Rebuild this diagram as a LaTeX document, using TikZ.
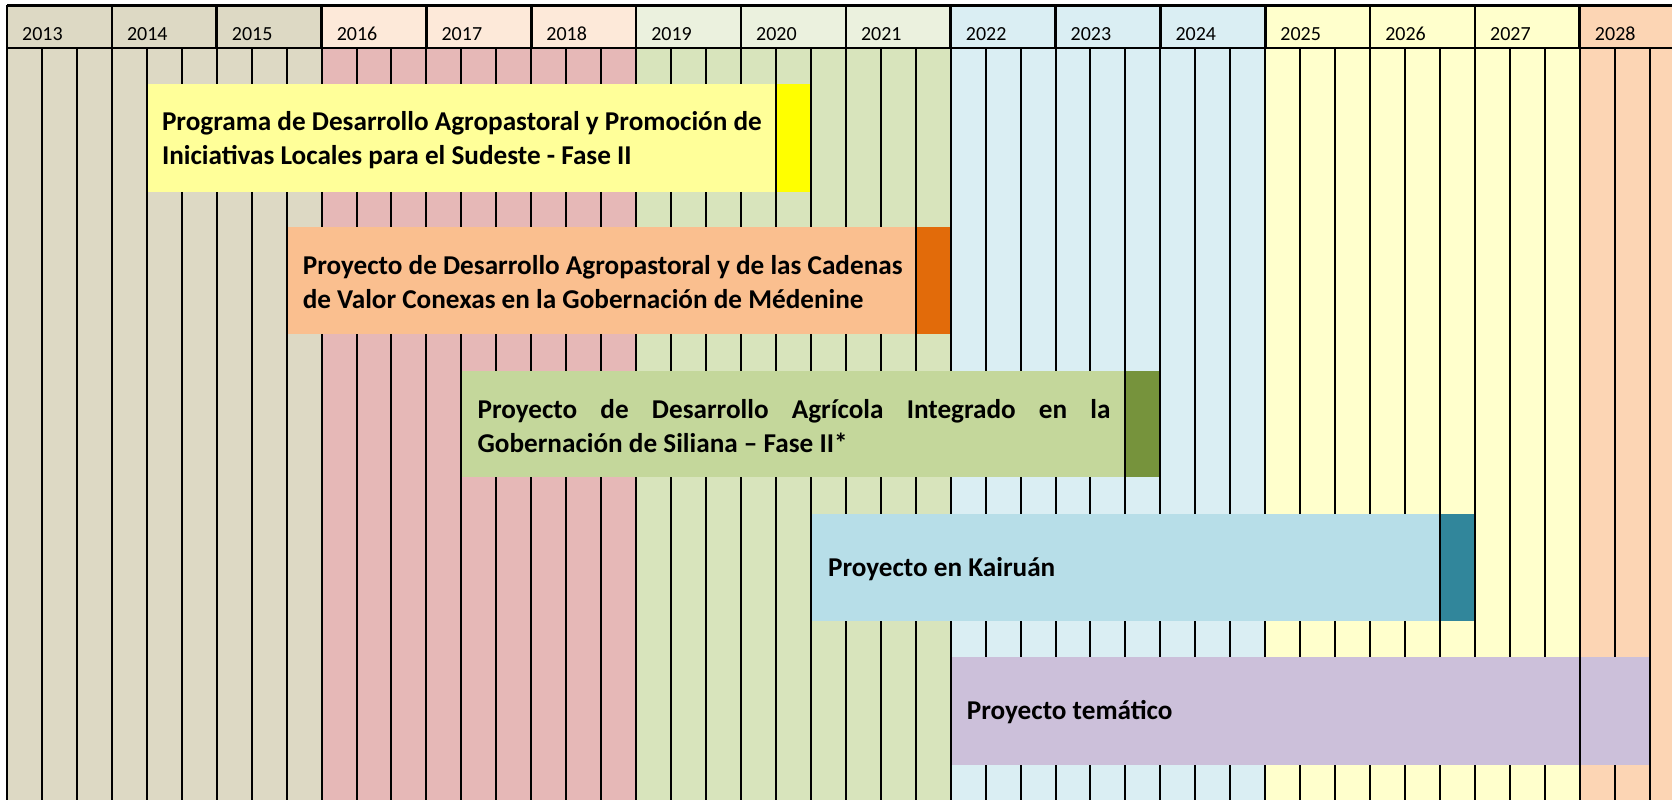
\documentclass[tikz,border=0pt]{standalone}
\usepackage{fontspec}
\setmainfont{Carlito}
\definecolor{tanH}{HTML}{DDD9C4}
\definecolor{pinkH}{HTML}{FDE9D9}
\definecolor{pinkB}{HTML}{E6B8B7}
\definecolor{greenH}{HTML}{EBF1DE}
\definecolor{greenB}{HTML}{D8E4BC}
\definecolor{blueH}{HTML}{DAEEF3}
\definecolor{yelH}{HTML}{FFFFCC}
\definecolor{peachH}{HTML}{FCD5B4}
\definecolor{barYl}{HTML}{FFFF99}
\definecolor{barYd}{HTML}{FFFF00}
\definecolor{barOl}{HTML}{FABF8F}
\definecolor{barOd}{HTML}{E26B0A}
\definecolor{barGl}{HTML}{C4D79B}
\definecolor{barGd}{HTML}{76933C}
\definecolor{barBl}{HTML}{B7DEE8}
\definecolor{barBd}{HTML}{31869B}
\definecolor{barP}{HTML}{CCC0DA}
\begin{document}
\begin{tikzpicture}[x=1pt,y=-1pt,
  gridline/.style={line width=2pt, black},
  yearline/.style={line width=2.6pt, black},
  yearlabel/.style={anchor=base west, font=\fontsize{20}{24}\selectfont, inner sep=0pt},
  bartext/.style={anchor=west, font=\bfseries\fontsize{27.2}{34}\selectfont, align=left, inner sep=0pt},
]
\def\xz{7}
\def\cw{34.95}
\def\ytop{5.5}
\def\yhd{48}
\useasboundingbox (0,0) rectangle (1672,800);
% backgrounds: header / body per group of three years
\foreach \a/\b/\ch/\cb in {0/9/tanH/tanH, 9/18/pinkH/pinkB, 18/27/greenH/greenB, 27/36/blueH/blueH, 36/45/yelH/yelH}{
  \fill[\ch] ({\xz+\a*\cw},\ytop) rectangle ({\xz+\b*\cw},\yhd);
  \fill[\cb] ({\xz+\a*\cw},\yhd) rectangle ({\xz+\b*\cw},800);
}
\fill[peachH] ({\xz+45*\cw},\ytop) rectangle (1672,800);
% body grid lines
\foreach \k in {1,...,47}{
  \draw[gridline] ({\xz+\k*\cw},\yhd) -- ({\xz+\k*\cw},800);
}
% header year lines
\foreach \k in {3,6,...,45}{
  \draw[yearline] ({\xz+\k*\cw},\ytop) -- ({\xz+\k*\cw},\yhd);
}
\draw[yearline] (\xz,\ytop) -- (\xz,800);
\draw[yearline] (\xz,\ytop) -- (1672,\ytop);
\draw[gridline] (\xz,\yhd) -- (1672,\yhd);
% year labels
\foreach \yr [count=\i from 0] in {2013,...,2028}{
  \node[yearlabel] (y\yr) at ({\xz+3*\i*\cw+15},40.5) {\yr};
}
% bars: start col / light end col / end col / top / bottom / light / dark
\foreach \a/\b/\c/\t/\u/\cl/\cd in {4/22/23/84/192/barYl/barYd, 8/26/27/227/334/barOl/barOd, 13/32/33/371/477/barGl/barGd, 23/41/42/514/621/barBl/barBd, 27/45/47/657/765/barP/barP}{
  \fill[\cl] ({\xz+\a*\cw},\t) rectangle ({\xz+\b*\cw},\u);
  \fill[\cd] ({\xz+\b*\cw},\t) rectangle ({\xz+\c*\cw},\u);
  \foreach \k in {\a,\b,\c}{
    \draw[gridline] ({\xz+\k*\cw},\t) -- ({\xz+\k*\cw},\u);
  }
}
% bar texts
\node[bartext] (p1) at ({\xz+4*\cw+15},140) {Programa de Desarrollo Agropastoral y Promoción de\\Iniciativas Locales para el Sudeste - Fase II};
\node[bartext] (p2) at ({\xz+8*\cw+16},282.5) {Proyecto de Desarrollo Agropastoral y de las Cadenas\\de Valor Conexas en la Gobernación de Médenine};
\node[bartext] (p3) at ({\xz+13*\cw+16},426) {\makebox[633pt][s]{Proyecto de Desarrollo Agrícola Integrado en la}\\Gobernación de Siliana – Fase II*};
\node[bartext] (p4) at ({\xz+23*\cw+17},569) {Proyecto en Kairuán};
\node[bartext] (p5) at ({\xz+27*\cw+16},712.5) {Proyecto temático};
\end{tikzpicture}
\end{document}
